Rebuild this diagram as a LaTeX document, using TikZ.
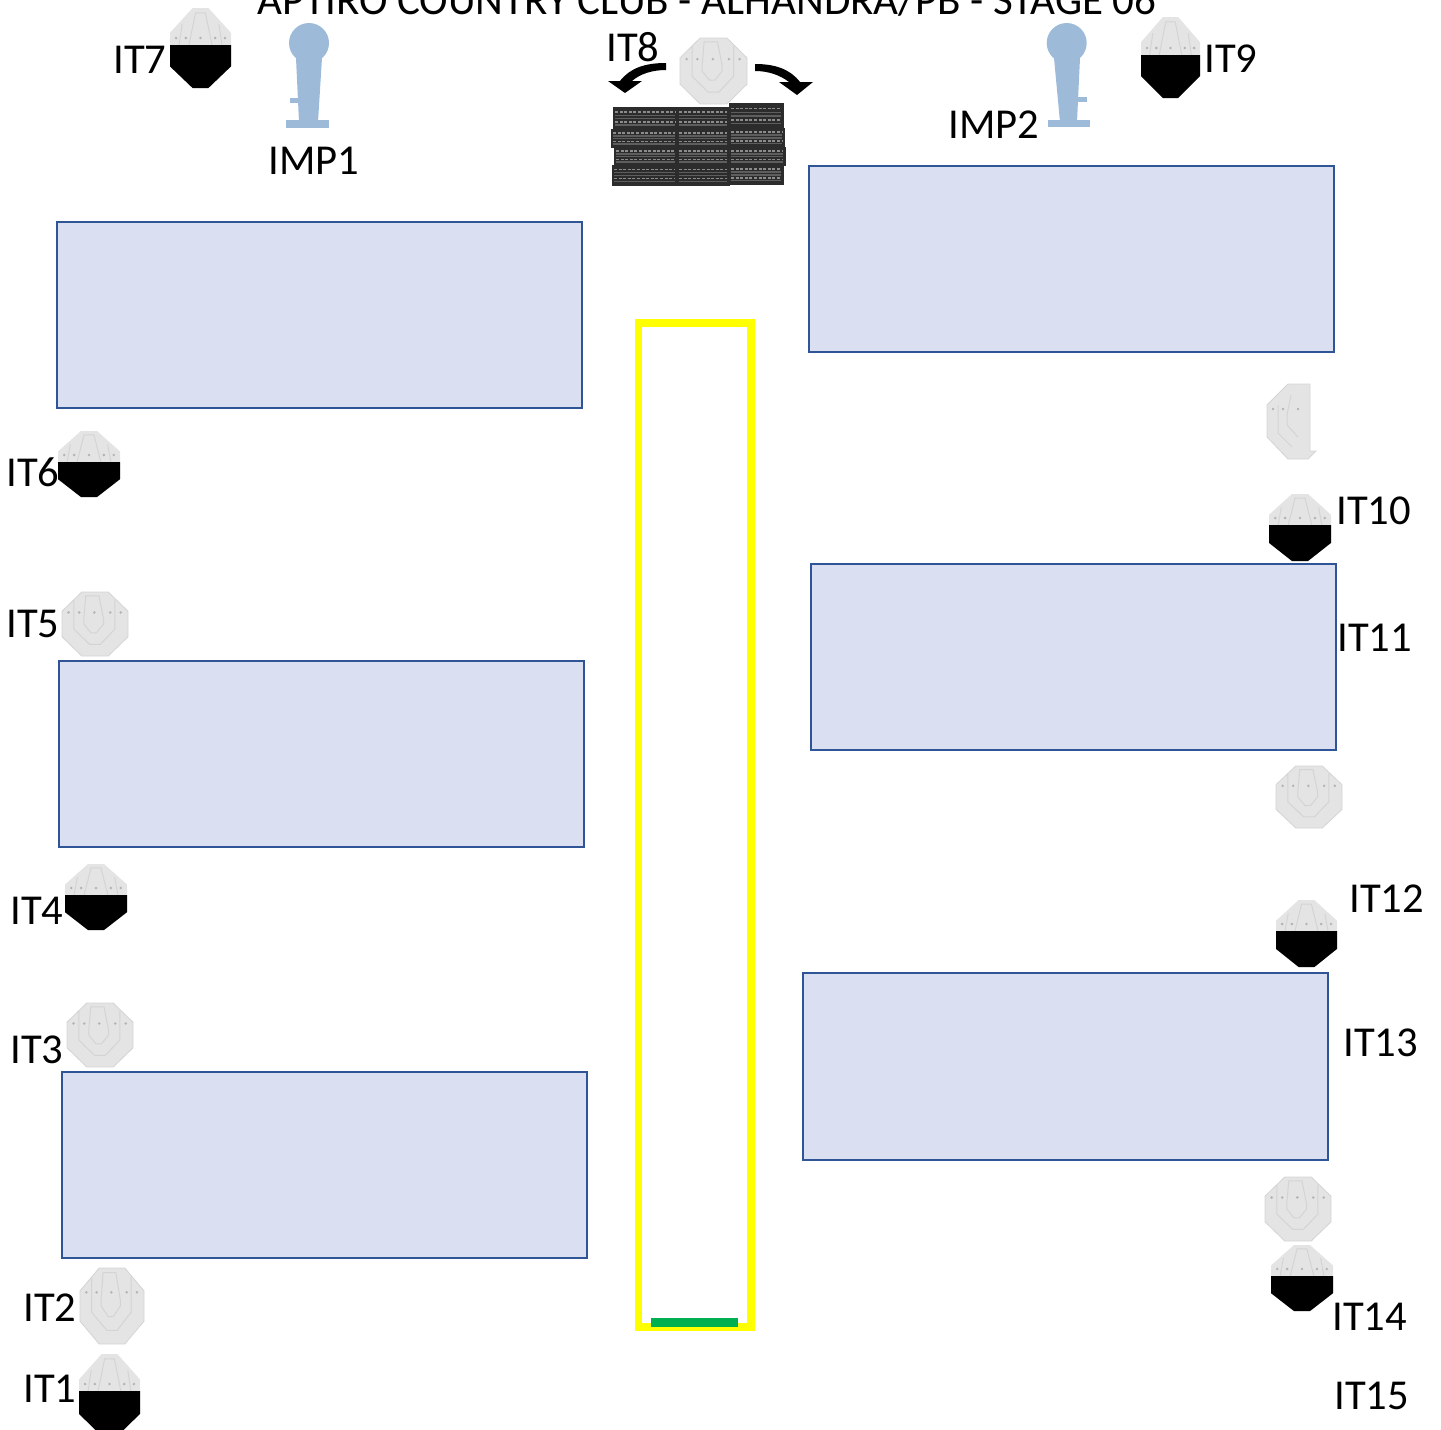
\documentclass[tikz,border=0pt]{standalone}
\usepackage{fontspec}
\setmainfont{Carlito}
\definecolor{panelfill}{HTML}{DAE0F2}
\definecolor{panelline}{HTML}{2F5597}
\definecolor{targetgray}{HTML}{E4E4E4}
\definecolor{targetline}{HTML}{D4D4D4}
\definecolor{targetdot}{HTML}{B4B4B4}
\definecolor{popperblue}{HTML}{9DBBD9}
\definecolor{tiredark}{HTML}{2C2C2C}
\definecolor{treadgray}{HTML}{8C8C8C}
\definecolor{treadmid}{HTML}{5E5E5E}
\definecolor{faultgreen}{HTML}{00B050}
\definecolor{lanecolor}{HTML}{FFFF00}
\tikzset{
  panel/.style={draw=panelline,fill=panelfill,line width=1.35pt},
  lab/.style={inner sep=0pt,anchor=base west,font=\fontsize{21.3}{25}\selectfont,text=black},
  tread/.style={treadgray,line width=.7pt,dash pattern=on 1.5pt off .8pt},
  treadsolid/.style={treadmid,line width=.8pt}
}
\newcommand{\octopath}{(.3,0)--(.7,0)--(1,.3)--(1,.7)--(.7,1)--(.3,1)--(0,.7)--(0,.3)--cycle}
\newcommand{\tallpath}{(.37,0)--(.63,0)--(1,.31)--(1,.73)--(.63,1)--(.37,1)--(0,.73)--(0,.31)--cycle}
% x1 y1 x2 y2: full grey target with ring lines
\newcommand{\fulltarget}[4]{%
  \begin{scope}[shift={(#1,#2)},x={({(#3-#1)*0.5pt},0pt)},y={(0pt,{-(#4-#2)*0.5pt})}]
    \fill[targetgray,draw=targetline,line width=.4pt] \octopath;
    \draw[targetline,line width=.5pt] (.36,.06)--(.56,.06)--(.63,.42)--(.63,.5)--(.52,.64)--(.44,.64)--(.33,.5)--(.33,.42)--cycle;
    \draw[targetline,line width=.5pt] (.18,.12)--(.18,.58)--(.42,.82)--(.58,.82)--(.8,.58)--(.8,.12);
    \foreach \dx in {.1,.26,.49,.73,.89}{\fill[targetdot] (\dx,.32) circle[radius=.7pt];}
  \end{scope}}
% x1 y1 x2 y2 yblack: grey target whose lower part is black
\newcommand{\halftarget}[5]{%
  \begin{scope}[shift={(#1,#2)},x={({(#3-#1)*0.5pt},0pt)},y={(0pt,{-(#4-#2)*0.5pt})}]
    \fill[targetgray] \tallpath;
    \draw[targetline,line width=.5pt] (.3,.5)--(.42,.06)--(.58,.06)--(.7,.5);
    \draw[targetline,line width=.5pt] (.14,.5)--(.2,.2);
    \draw[targetline,line width=.5pt] (.86,.5)--(.8,.2);
    \foreach \dx in {.1,.26,.5,.74,.9}{\fill[targetdot] (\dx,{(#5-#2-7)/(#4-#2)}) circle[radius=.7pt];}
    \begin{scope}
      \clip \tallpath;
      \coordinate (blackA) at (-.1,{(#5-#2)/(#4-#2)});
      \coordinate (blackB) at (1.1,1.1);
      \fill[black] (blackA) rectangle (blackB);
    \end{scope}
  \end{scope}}
% x1 y1 x2 y2: one tyre of the stack
\newcommand{\tyre}[4]{%
  \fill[tiredark] (#1,#2) rectangle (#3+.5,#4+.5);
  \foreach \f in {.22,.68}{\draw[tread] (#1+2,{#2+(#4-#2)*\f})--(#3-2,{#2+(#4-#2)*\f});}
  \foreach \f in {.38,.52,.82}{\draw[treadsolid] (#1+2,{#2+(#4-#2)*\f})--(#3-2,{#2+(#4-#2)*\f});}}
\begin{document}
\begin{tikzpicture}[x=0.5pt,y=-0.5pt]
\useasboundingbox (0,0) rectangle (1441,1430);
\clip (0,0) rectangle (1441,1430);
% panels
\draw[panel] (57,222) rectangle (582,408);
\draw[panel] (809,166) rectangle (1334,352);
\draw[panel] (59,661) rectangle (584,847);
\draw[panel] (811,564) rectangle (1336,750);
\draw[panel] (62,1072) rectangle (587,1258);
\draw[panel] (803,973) rectangle (1328,1160);
% yellow lane and green line
\draw[lanecolor,line width=3.75pt] (638.5,323) rectangle (751,1327);
\fill[faultgreen] (651,1318) rectangle (737.5,1327);
% tyre stack
\tyre{613}{107}{677}{129}\tyre{677}{107}{729}{129}\tyre{729}{103}{783}{128}
\tyre{611}{129}{677}{147}\tyre{677}{129}{729}{147}\tyre{729}{128}{784}{147}
\tyre{614}{147}{677}{165}\tyre{677}{147}{729}{165}\tyre{729}{147}{785}{165}
\tyre{612}{165}{677}{185}\tyre{677}{165}{729}{185}\tyre{729}{165}{783}{184}
% poppers
\fill[popperblue] (309,43) circle[radius=20];
\fill[popperblue] (296,58)--(322,58)--(318,122)--(299,122)--cycle;
\fill[popperblue] (286,120) rectangle (329,128);
\fill[popperblue] (290,98) rectangle (298,103);
\fill[popperblue] (1066.7,43) circle[radius=20];
\fill[popperblue] (1054,58)--(1080,58)--(1077,122)--(1060,122)--cycle;
\fill[popperblue] (1048,120) rectangle (1090,127);
\fill[popperblue] (1077,97) rectangle (1087,102);
% targets
\halftarget{170}{8}{231}{88}{45}
\fulltarget{680}{38}{747}{104}
\halftarget{1141}{17}{1200}{98}{55}
\halftarget{58}{431}{120}{497}{462}
\fulltarget{62}{592}{128}{656}
\halftarget{65}{864}{127}{930}{895}
\fulltarget{67}{1003}{133}{1067}
\fulltarget{80}{1268}{144}{1344}
\halftarget{79}{1354}{140}{1436}{1391}
\halftarget{1269}{494}{1331}{561}{525}
\fulltarget{1276}{766}{1342}{828}
\halftarget{1276}{900}{1337}{967}{931}
\fulltarget{1265}{1177}{1331}{1241}
\halftarget{1271}{1245}{1333}{1311}{1276}
% target seen edge-on
\fill[targetgray,draw=targetline,line width=.4pt] (1288,384)--(1310,384)--(1310,451)--(1316,451)--(1308,459)--(1288,459)--(1267,437)--(1267,405)--cycle;
\draw[targetline,line width=.5pt] (1291,395)--(1287,415)--(1287,425)--(1298,437);
\draw[targetline,line width=.5pt] (1278,405)--(1278,433)--(1292,447);
\foreach \dy in {1273,1283,1298}{\fill[targetdot] (\dy,409) circle[radius=.7pt];}
% turning arrows
\fill[black] (666,63) .. controls (645,63) and (630,68) .. (620,81) -- (608,81) -- (625,93) -- (642,81) -- (632,81) .. controls (640,74) and (652,70) .. (666,70) -- cycle;
\fill[black] (755,64) .. controls (775,64) and (790,69) .. (800,82) -- (813,82) -- (797,95) -- (779,82) -- (789,82) .. controls (780,75) and (768,71) .. (755,71) -- cycle;
% labels
\node[lab,font=\fontsize{21.5}{25}\selectfont] (title) at (257,14) {APTIRO COUNTRY CLUB - ALHANDRA/PB - STAGE 06};
\node[lab] (it7) at (113,73) {IT7};
\node[lab] (it8) at (606,61) {IT8};
\node[lab] (it9) at (1204,72) {IT9};
\node[lab] (imp1) at (268,174) {IMP1};
\node[lab] (imp2) at (948,138) {IMP2};
\node[lab] (it6) at (6,486) {IT6};
\node[lab] (it5) at (6,637) {IT5};
\node[lab] (it4) at (10,924) {IT4};
\node[lab] (it3) at (10,1063) {IT3};
\node[lab] (it2) at (23,1321) {IT2};
\node[lab] (it1) at (23,1402) {IT1};
\node[lab] (it10) at (1336,524) {IT10};
\node[lab] (it11) at (1337,651) {IT11};
\node[lab] (it12) at (1349,912) {IT12};
\node[lab] (it13) at (1343,1056) {IT13};
\node[lab] (it14) at (1332,1330) {IT14};
\node[lab] (it15) at (1334,1409) {IT15};
\end{tikzpicture}
\end{document}
